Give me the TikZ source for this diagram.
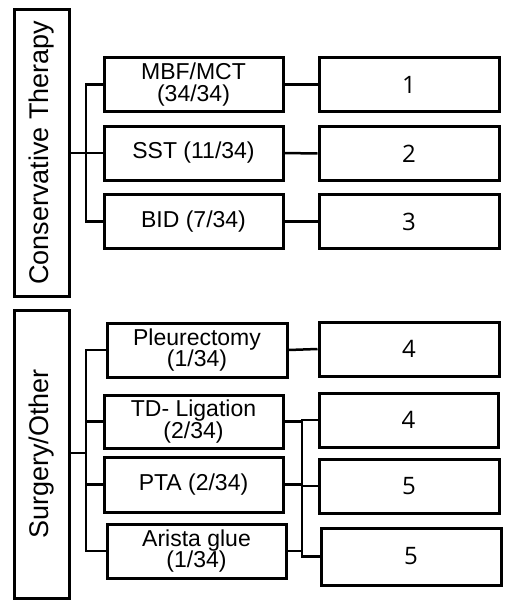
\documentclass[tikz,border=0pt]{standalone}
\usepackage{fontspec}
\setmainfont{Liberation Sans}
\newfontfamily\numfont{Open Sans}
\begin{document}
\begin{tikzpicture}[x=1pt,y=-1pt,line width=3pt,
  group/.style={draw,rectangle,minimum width=287pt,minimum height=55pt,inner sep=0pt,
    rotate=90,font=\fontsize{27}{30}\selectfont},
  therapy/.style={draw,rectangle,minimum width=179pt,minimum height=54pt,inner sep=0pt,
    align=center,font=\fontsize{23}{21.5}\selectfont},
  result/.style={draw,rectangle,minimum width=180pt,minimum height=54pt,inner sep=0pt,
    font=\numfont\fontsize{24}{26}\selectfont},
  link/.style={line width=2.5pt}]
\useasboundingbox (0,0) rectangle (510,603);

\node[group] (ct) at (41.5,152.5) {Conservative Therapy};
\node[therapy] (mbf) at (193.5,84.5) {MBF/MCT\\(34/34)};
\node[therapy] (sst) at (193.5,153) {SST (11/34)};
\node[therapy] (bid) at (193.5,221.5) {BID (7/34)};
\node[result] (r1) at (409,84.5) {1};
\node[result] (r2) at (409,153.5) {2};
\node[result] (r3) at (409,221.5) {3};

\coordinate (ctj) at (86,153);
\draw[link] (ct.south |- sst.west) -- (sst.west);
\draw[link] (mbf.west) -| (ctj) |- (bid.west);
\draw[link] (mbf.east) -- (r1.west);
\draw[link] (sst.east) -- (r2.west);
\draw[link] (bid.east) -- (r3.west);

\node[group,minimum width=288pt] (so) at (41.5,454) {Surgery/Other};
\node[therapy,minimum width=180pt] (ple) at (197,350) {Pleurectomy\\(1/34)};
\node[therapy,minimum height=53pt] (tdl) at (193.5,421.5) {TD- Ligation\\(2/34)};
\node[therapy,minimum height=55pt] (pta) at (193.5,484.5) {PTA (2/34)};
\node[therapy] (ari) at (196.5,551) {Arista glue\\(1/34)};
\node[result] (r4a) at (409,349) {4};
\node[result,minimum width=179pt] (r4b) at (408.5,420) {4};
\node[result] (r5a) at (409,486) {5};
\node[result,minimum height=57pt] (r5b) at (411,556.5) {5};

\coordinate (soj) at (86,453);
\coordinate (rj) at (302,486);
\draw[link] (so.south |- soj) -- (soj);
\draw[link] (ple.west) -| (soj) |- (ari.west);
\draw[link] (tdl.west) -- (tdl.west -| soj);
\draw[link] (pta.west) -- (pta.west -| soj);
\draw[link] (ple.east) -- (r4a.west);
\draw[link] (r4b.west) -| (rj) |- (r5b.west);
\draw[link] (tdl.east) -- (tdl.east -| rj);
\draw[link] (pta.east) -- (pta.east -| rj);
\draw[link] (ari.east) -- (ari.east -| rj);
\draw[link] (rj |- r5a.west) -- (r5a.west);
\end{tikzpicture}
\end{document}
